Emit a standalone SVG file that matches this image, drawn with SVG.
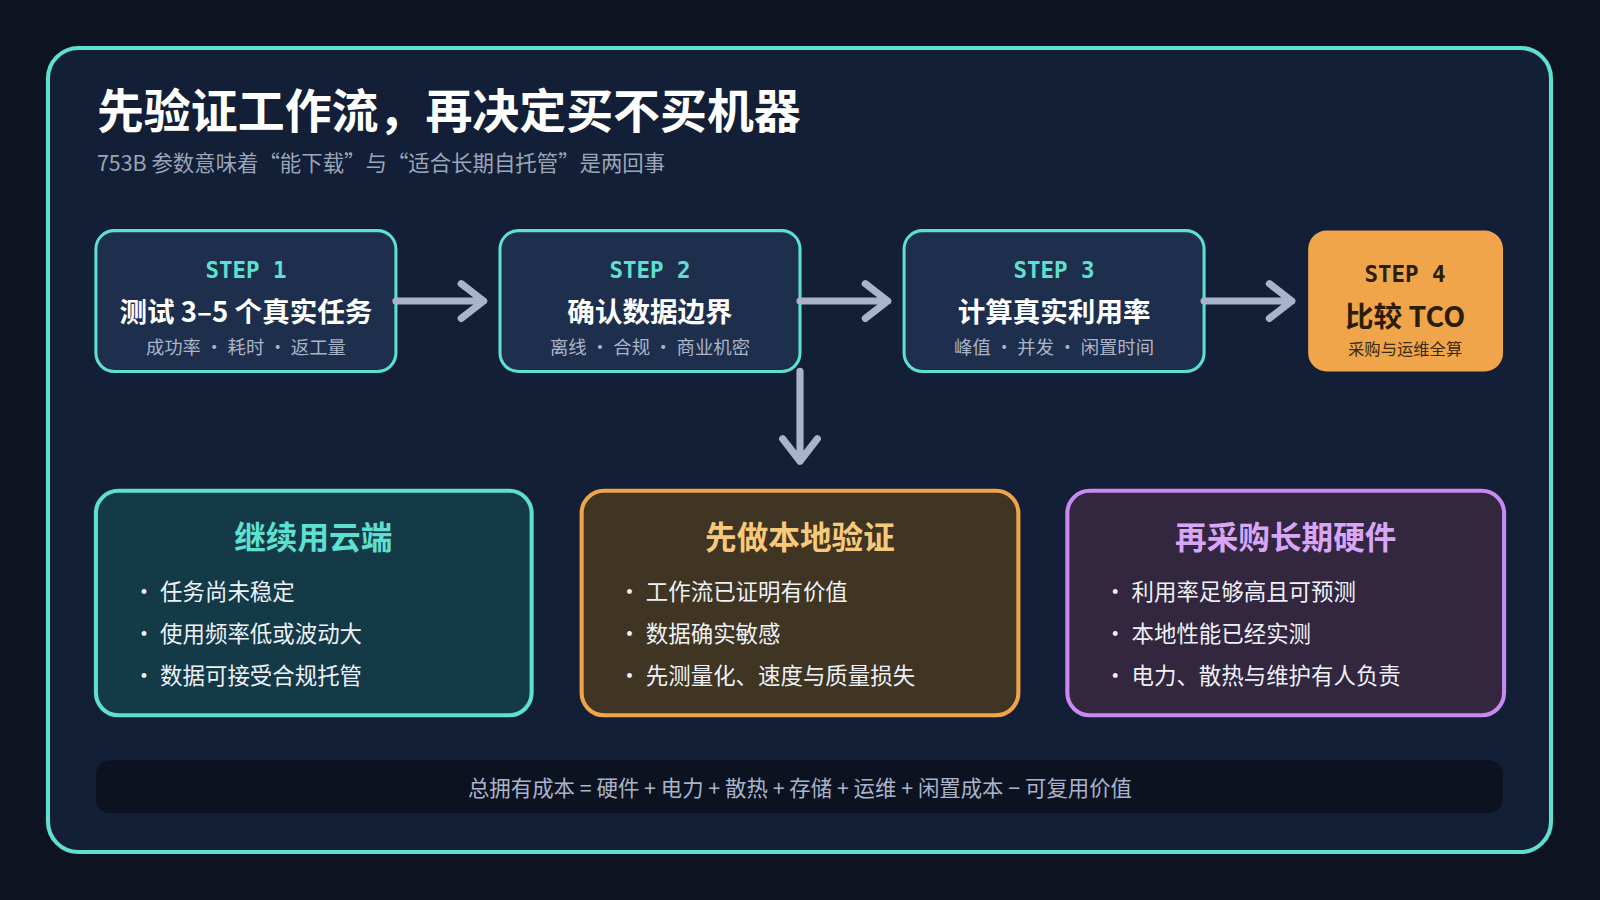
<svg xmlns="http://www.w3.org/2000/svg" width="1600" height="900" viewBox="0 0 1600 900">
<style>
text{font-family:"Noto Sans CJK SC","Noto Sans",sans-serif}
.step{fill:#1e2f4e;stroke:#5ee0d0;stroke-width:3}
.sl{font-family:"DejaVu Sans Mono","Noto Sans CJK SC",monospace;font-weight:bold;font-size:22px;fill:#5ee0d0;text-anchor:middle}
.st{font-weight:bold;font-size:27px;fill:#fff;text-anchor:middle}
.ss{font-size:18px;fill:#aab4c8;text-anchor:middle}
.ct{font-weight:bold;font-size:31px;text-anchor:middle}
.b{font-size:22px;fill:#eef2f8}
.arr{fill:none;stroke:#a9b4cc;stroke-width:7;stroke-linecap:round;stroke-linejoin:round}
</style>
<rect width="1600" height="900" fill="#0d1321"/>
<g transform="scale(1.020408)">
<rect x="47" y="47" width="1473" height="788" rx="30" fill="#131f36" stroke="#5ee0d0" stroke-width="4"/>
<text x="95" y="125" font-size="46" font-weight="bold" fill="#fff">先验证工作流，再决定买不买机器</text>
<text x="95" y="168" font-size="21" fill="#9aa5b8">753B 参数意味着“能下载”与“适合长期自托管”是两回事</text>
<g id="step1"><rect class="step" x="94" y="226" width="294" height="138" rx="18"/><text class="sl" x="241" y="272">STEP 1</text><text class="st" x="241" y="316">测试 3–5 个真实任务</text><text class="ss" x="241" y="347">成功率 · 耗时 · 返工量</text></g>
<g id="step2"><rect class="step" x="490" y="226" width="294" height="138" rx="18"/><text class="sl" x="637" y="272">STEP 2</text><text class="st" x="637" y="316">确认数据边界</text><text class="ss" x="637" y="347">离线 · 合规 · 商业机密</text></g>
<g id="step3"><rect class="step" x="886" y="226" width="294" height="138" rx="18"/><text class="sl" x="1033" y="272">STEP 3</text><text class="st" x="1033" y="316">计算真实利用率</text><text class="ss" x="1033" y="347">峰值 · 并发 · 闲置时间</text></g>
<g id="step4"><rect x="1282" y="226" width="191" height="138" rx="18" fill="#f0a54a"/><text class="sl" x="1377" y="276" fill="#2a1d0a" style="fill:#2a1d0a">STEP 4</text><text x="1377" y="320" font-size="28" font-weight="bold" fill="#2a1d0a" text-anchor="middle">比较 TCO</text><text x="1377" y="348" font-size="16" fill="#3a2a10" text-anchor="middle">采购与运维全算</text></g>
<g id="connectors">
<path class="arr" d="M388 295H474M452 278L474 295L452 312"/>
<path class="arr" d="M784 295H870M848 278L870 295L848 312"/>
<path class="arr" d="M1180 295H1266M1244 278L1266 295L1244 312"/>
<path class="arr" d="M784 364V452M767 430L784 452L801 430"/>
</g>
<g id="cloud"><rect x="94" y="481" width="427" height="220" rx="22" fill="#143a48" stroke="#5ee0d0" stroke-width="4"/><text class="ct" x="307" y="538" fill="#5ee0d0">继续用云端</text>
<text class="b" x="130" y="588">• 任务尚未稳定</text><text class="b" x="130" y="629">• 使用频率低或波动大</text><text class="b" x="130" y="670">• 数据可接受合规托管</text></g>
<g id="local"><rect x="570" y="481" width="428" height="220" rx="22" fill="#3f3522" stroke="#f0a54a" stroke-width="4"/><text class="ct" x="784" y="538" fill="#f7c97a">先做本地验证</text>
<text class="b" x="606" y="588">• 工作流已证明有价值</text><text class="b" x="606" y="629">• 数据确实敏感</text><text class="b" x="606" y="670">• 先测量化、速度与质量损失</text></g>
<g id="buy"><rect x="1046" y="481" width="428" height="220" rx="22" fill="#33263f" stroke="#c88af0" stroke-width="4"/><text class="ct" x="1260" y="538" fill="#d9a5f7">再采购长期硬件</text>
<text class="b" x="1082" y="588">• 利用率足够高且可预测</text><text class="b" x="1082" y="629">• 本地性能已经实测</text><text class="b" x="1082" y="670">• 电力、散热与维护有人负责</text></g>
<g id="formula"><rect x="94" y="745" width="1379" height="52" rx="14" fill="#0c1220"/><text x="784" y="780" font-size="21" fill="#a9b4cc" text-anchor="middle">总拥有成本 = 硬件 + 电力 + 散热 + 存储 + 运维 + 闲置成本 − 可复用价值</text></g>
</g>
</svg>
